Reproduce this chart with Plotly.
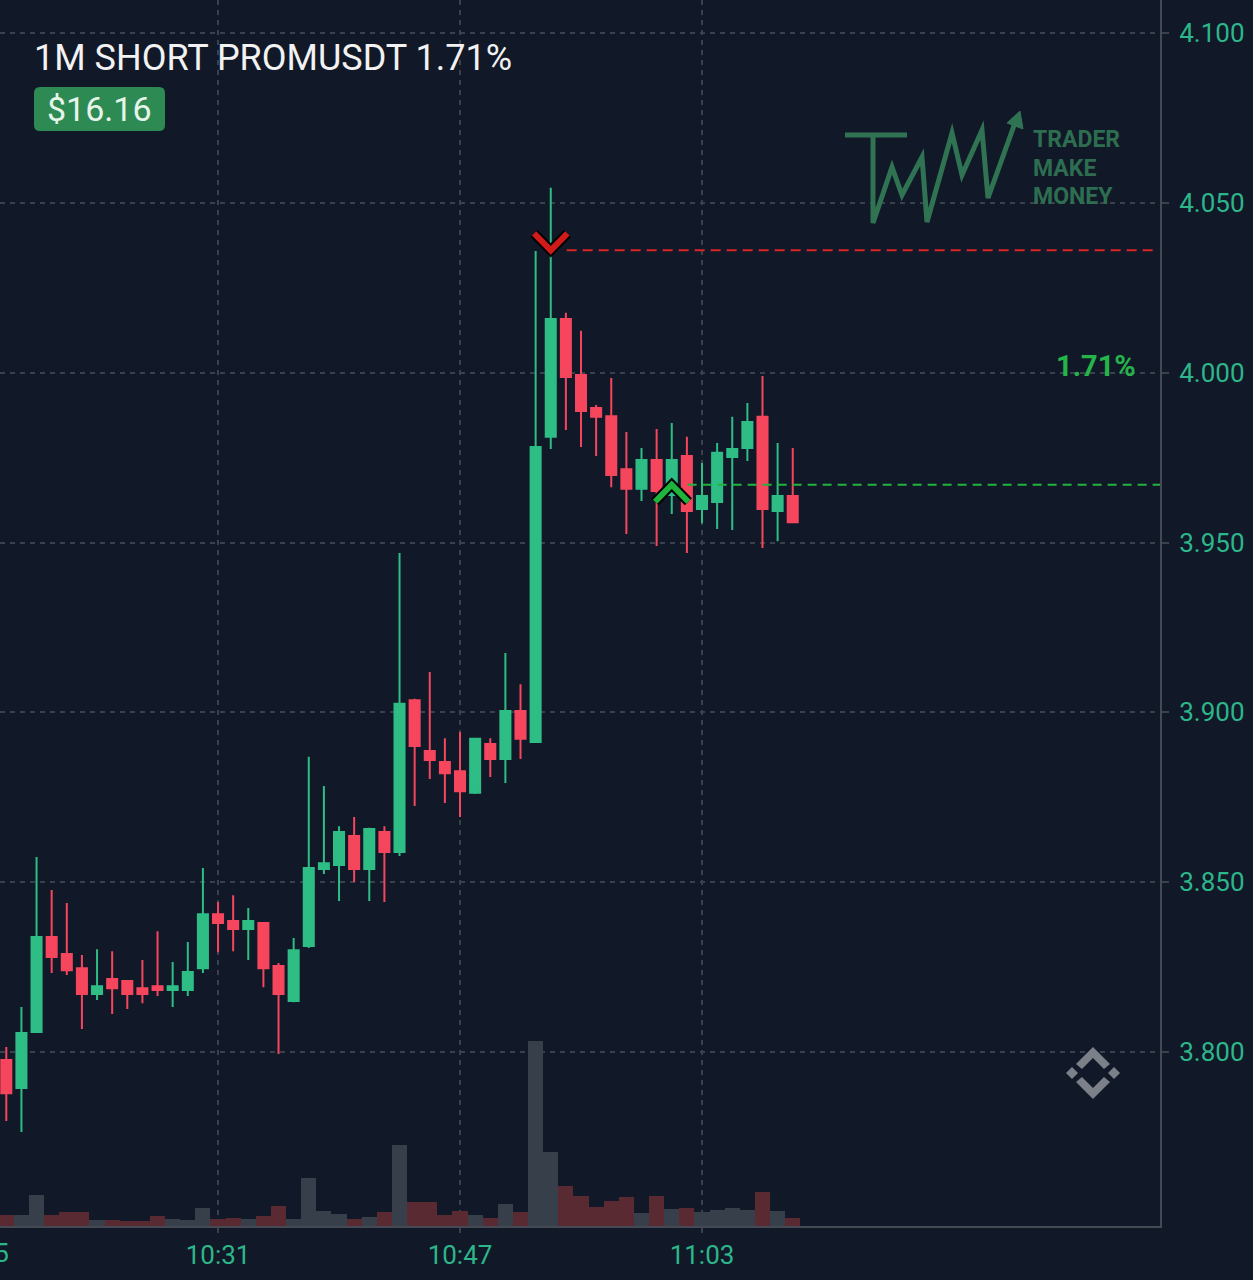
import plotly.graph_objects as go
import pandas as pd

# --- data: PROMUSDT 1m candles 10:17 -> 11:09 ---
times = pd.date_range("2024-01-01 10:17", periods=53, freq="min")

opens = [3.7977, 3.7894, 3.8059, 3.8339, 3.8289, 3.8247, 3.8171, 3.8215, 3.8209, 3.8188,
         3.8194, 3.8183, 3.8183, 3.8247, 3.8406, 3.8386, 3.8362, 3.8380, 3.8253, 3.8150,
         3.8312, 3.8539, 3.8551, 3.8636, 3.8539, 3.8648, 3.8589, 3.9036, 3.8886, 3.8854,
         3.8827, 3.8763, 3.8907, 3.8863, 3.9004, 3.8913, 3.9811, 4.0158, 3.9993, 3.9896,
         3.9872, 3.9716, 3.9658, 3.9743, 3.9640, 3.9755, 3.9599, 3.9619, 3.9752, 3.9778,
         3.9870, 3.9593, 3.9637]
highs = [3.8015, 3.8133, 3.8574, 3.8477, 3.8439, 3.8286, 3.8303, 3.8297, 3.8212, 3.8271,
         3.8356, 3.8265, 3.8324, 3.8542, 3.8442, 3.8462, 3.8424, 3.8383, 3.8262, 3.8336,
         3.8869, 3.8783, 3.8665, 3.8692, 3.8660, 3.8665, 3.9469, 3.9040, 3.9119, 3.8924,
         3.8942, 3.8925, 3.8924, 3.9175, 3.9083, 4.0358, 4.0544, 4.0176, 4.0123, 3.9905,
         3.9984, 3.9825, 3.9778, 3.9834, 3.9852, 3.9811, 3.9734, 3.9793, 3.9870, 3.9911,
         3.9990, 3.9793, 3.9778]
lows = [3.7797, 3.7765, 3.8056, 3.8233, 3.8227, 3.8068, 3.8153, 3.8112, 3.8127, 3.8144,
        3.8165, 3.8133, 3.8165, 3.8233, 3.8294, 3.8297, 3.8271, 3.8191, 3.7994, 3.8147,
        3.8306, 3.8524, 3.8445, 3.8501, 3.8445, 3.8442, 3.8577, 3.8724, 3.8804, 3.8733,
        3.8692, 3.8760, 3.8810, 3.8792, 3.8863, 3.8910, 3.9775, 3.9831, 3.9781, 3.9755,
        3.9663, 3.9525, 3.9622, 3.9490, 3.9584, 3.9469, 3.9557, 3.9540, 3.9537, 3.9740,
        3.9484, 3.9504, 3.9560]
closes = [3.7879, 3.8056, 3.8339, 3.8280, 3.8241, 3.8171, 3.8194, 3.8188, 3.8171, 3.8171,
          3.8183, 3.8194, 3.8236, 3.8406, 3.8380, 3.8362, 3.8386, 3.8247, 3.8171, 3.8300,
          3.8542, 3.8556, 3.8648, 3.8539, 3.8657, 3.8589, 3.9025, 3.8901, 3.8860, 3.8821,
          3.8768, 3.8922, 3.8863, 3.9004, 3.8922, 3.9781, 4.0158, 3.9987, 3.9887, 3.9870,
          3.9699, 3.9658, 3.9743, 3.9652, 3.9743, 3.9593, 3.9637, 3.9764, 3.9775, 3.9855,
          3.9599, 3.9637, 3.9560]
volumes = [11, 11, 31, 11, 14, 14, 6, 6, 5, 5, 10, 7, 6, 18, 7, 8, 7, 10, 20, 7,
           48, 15, 12, 7, 9, 14, 81, 24, 24, 11, 15, 11, 8, 22, 14, 185, 74, 40, 30, 19,
           25, 29, 13, 30, 17, 18, 14, 16, 18, 16, 34, 15, 8]

price_ticks = [3.80, 3.85, 3.90, 3.95, 4.00, 4.05, 4.10]
time_ticks = ["10:31", "10:47", "11:03"]

# trade: short entry / exit
entry_time, entry_price = pd.Timestamp("2024-01-01 10:53"), 4.036
exit_time, exit_price = pd.Timestamp("2024-01-01 11:01"), 3.967
title_text = "1M SHORT PROMUSDT 1.71%"
pnl_usd = "$16.16"
pnl_pct = "1.71%"

# --- style ---
BG = "#111828"
UP = "#2ebd85"
DOWN = "#f6465d"
VOL_UP = "#363f4a"
VOL_DOWN = "#5a2a33"
GRID = "#3a404c"
AXLINE = "#444954"
TICK_TXT = "#2cb68a"
LOGO = "#2f7353"

x_start = pd.Timestamp("2024-01-01 10:16:35")
x_end = pd.Timestamp("2024-01-01 11:33:17")
y_range = [3.7488, 4.1097]

PLOT_W, PLOT_H = 1160, 1226  # plot area in px, used for decorations


def px(x, y):
    return x / PLOT_W, (PLOT_H - y) / PLOT_H


def poly(points, close=True):
    parts = []
    for i, (x, y) in enumerate(points):
        fx, fy = px(x, y)
        parts.append(("M" if i == 0 else "L") + f"{fx:.5f},{fy:.5f}")
    return " ".join(parts) + (" Z" if close else "")


vol_colors = [VOL_UP if c >= o else VOL_DOWN for o, c in zip(opens, closes)]

fig = go.Figure()

fig.add_trace(
    go.Bar(x=times, y=volumes, marker=dict(color=vol_colors, line_width=0),
           yaxis="y2", hoverinfo="skip")
)

fig.add_trace(
    go.Candlestick(
        x=times, open=opens, high=highs, low=lows, close=closes,
        increasing=dict(line=dict(color=UP, width=2), fillcolor=UP),
        decreasing=dict(line=dict(color=DOWN, width=2), fillcolor=DOWN),
        whiskerwidth=0,
    )
)

# chevron markers for entry / exit
dx = pd.Timedelta(seconds=66)
dy = 0.0050
for t, p, sign, col in [(entry_time, entry_price, 1, "#d11a1a"), (exit_time, exit_price, -1, "#1fb43c")]:
    xs = [t - dx, t, t + dx]
    ys = [p + sign * dy, p, p + sign * dy]
    fig.add_trace(go.Scatter(x=xs, y=ys, mode="lines", line=dict(color="black", width=10),
                             hoverinfo="skip"))
    fig.add_trace(go.Scatter(x=xs, y=ys, mode="lines", line=dict(color=col, width=6),
                             hoverinfo="skip"))

# entry / exit levels
fig.add_shape(type="line", xref="x", yref="y",
              x0=entry_time + pd.Timedelta(seconds=63), x1=x_end - pd.Timedelta(seconds=25),
              y0=entry_price, y1=entry_price,
              line=dict(color="#d92626", width=2, dash="10px,6px"))
fig.add_shape(type="line", xref="x", yref="y",
              x0=exit_time + pd.Timedelta(seconds=63), x1=x_end,
              y0=exit_price, y1=exit_price,
              line=dict(color="#22b33e", width=2, dash="9px,6px"))

# badge behind the $ amount
bx0, by0, bx1, by1, r = 34, 87, 165, 131, 6
badge = (
    f"M{px(bx0 + r, by0)[0]},{px(0, by0)[1]} L{px(bx1 - r, 0)[0]},{px(0, by0)[1]} "
    f"Q{px(bx1, 0)[0]},{px(0, by0)[1]} {px(bx1, 0)[0]},{px(0, by0 + r)[1]} "
    f"L{px(bx1, 0)[0]},{px(0, by1 - r)[1]} Q{px(bx1, 0)[0]},{px(0, by1)[1]} {px(bx1 - r, 0)[0]},{px(0, by1)[1]} "
    f"L{px(bx0 + r, 0)[0]},{px(0, by1)[1]} Q{px(bx0, 0)[0]},{px(0, by1)[1]} {px(bx0, 0)[0]},{px(0, by1 - r)[1]} "
    f"L{px(bx0, 0)[0]},{px(0, by0 + r)[1]} Q{px(bx0, 0)[0]},{px(0, by0)[1]} {px(bx0 + r, 0)[0]},{px(0, by0)[1]} Z"
)
fig.add_shape(type="path", xref="paper", yref="paper", path=badge,
              fillcolor="#2d8a52", line_width=0, layer="above")

# TMM watermark logo
fig.add_shape(type="path", xref="paper", yref="paper",
              path=poly([(845, 135), (907, 135)], close=False),
              line=dict(color=LOGO, width=5))
fig.add_shape(type="path", xref="paper", yref="paper",
              path=poly([(873, 135), (873, 223), (892, 167), (902, 195), (922, 157), (927, 222),
                         (952, 133), (962, 175), (982, 130), (988, 198), (1016, 120)], close=False),
              line=dict(color=LOGO, width=5))
fig.add_shape(type="path", xref="paper", yref="paper",
              path=poly([(1020, 111), (1023, 129), (1007, 123)]),
              fillcolor=LOGO, line=dict(color=LOGO, width=1))

# exchange logo (bottom right)
LOGO2 = "#7c8089"
for pts in [
    [(1093, 1047), (1110, 1064), (1104, 1069), (1093, 1058), (1082, 1069), (1076, 1064)],
    [(1093, 1099), (1110, 1082), (1104, 1077), (1093, 1088), (1082, 1077), (1076, 1082)],
    [(1072, 1067), (1078, 1073), (1072, 1079), (1066, 1073)],
    [(1114, 1067), (1120, 1073), (1114, 1079), (1108, 1073)],
]:
    fig.add_shape(type="path", xref="paper", yref="paper", path=poly(pts),
                  fillcolor=LOGO2, line_width=0)


def note(x, y, text, size, color, anchor="left", bold=False):
    fx, fy = px(x, y)
    fig.add_annotation(xref="paper", yref="paper", x=fx, y=fy, text=text,
                       xanchor=anchor, yanchor="middle", showarrow=False,
                       font=dict(family="Roboto", size=size, color=color,
                                 weight=700 if bold else 400))


note(32, 58, title_text, 36, "#f2f2f2")
note(99.5, 109, pnl_usd, 34, "#e6f4ea", anchor="center")
note(1031, 140, "TRADER", 23, "#2e6e50", bold=True)
note(1031, 168, "MAKE", 23, "#2e6e50", bold=True)
note(1031, 197, "MONEY", 23, "#2e6e50", bold=True)
note(1138, 366, pnl_pct, 29, "#24b44a", anchor="right", bold=True)
# cut-off tick label at the left edge
note(-24, 1253, "10:15", 26, TICK_TXT, anchor="center")

fig.update_layout(
    width=1253,
    height=1280,
    margin=dict(l=0, r=93, t=0, b=54),
    paper_bgcolor=BG,
    plot_bgcolor=BG,
    showlegend=False,
    bargap=0,
    boxgap=0.2,
    boxgroupgap=0.17,
    font=dict(family="Roboto", color=TICK_TXT),
    xaxis=dict(
        type="date",
        range=[x_start, x_end],
        rangeslider=dict(visible=False),
        tickvals=[pd.Timestamp("2024-01-01 " + t) for t in time_ticks],
        ticktext=time_ticks,
        showgrid=True, gridcolor=GRID, gridwidth=1.5, griddash="5px,5px",
        showline=True, linecolor=AXLINE, linewidth=2,
        ticks="outside", ticklen=5, tickcolor=GRID, tickwidth=1.5,
        tickfont=dict(size=26, color=TICK_TXT),
        ticklabelstandoff=0,
        zeroline=False,
    ),
    yaxis=dict(
        side="right",
        range=y_range,
        tickvals=price_ticks,
        tickformat=".3f",
        showgrid=True, gridcolor=GRID, gridwidth=1.5, griddash="5px,5px",
        showline=True, linecolor=AXLINE, linewidth=2,
        ticks="outside", ticklen=7, tickcolor=GRID, tickwidth=1.5,
        tickfont=dict(size=26, color=TICK_TXT),
        ticklabelstandoff=5,
        zeroline=False,
    ),
    yaxis2=dict(overlaying="y", range=[0, 1226], visible=False, fixedrange=True),
)

# the page body has a default margin; drop it so the figure sits at the corner
fig.write_html("out.html", config={"displayModeBar": False},
               post_script="document.body.style.margin='0';")
